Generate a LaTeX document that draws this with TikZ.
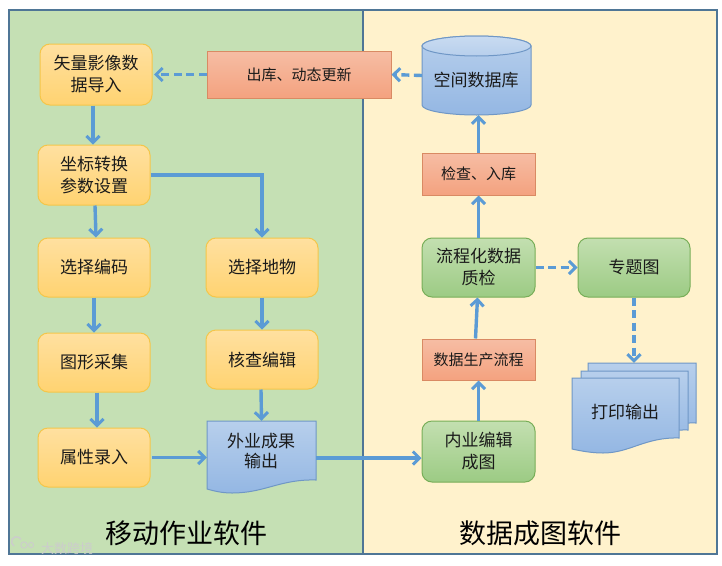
\documentclass[tikz,border=0pt]{standalone}
\usepackage{fontspec}
\setmainfont{Noto Sans CJK SC}
\usetikzlibrary{arrows.meta,calc}
\definecolor{panelL}{HTML}{C5E0B4}
\definecolor{panelR}{HTML}{FFF2CC}
\definecolor{panelB}{HTML}{4F7696}
\definecolor{arrowC}{HTML}{5B9BD5}
\definecolor{oT}{HTML}{FFE0A0}\definecolor{oB}{HTML}{FFD371}\definecolor{oD}{HTML}{F4C64A}
\definecolor{gT}{HTML}{C3DFB0}\definecolor{gB}{HTML}{9CCB84}\definecolor{gD}{HTML}{78AE58}
\definecolor{sT}{HTML}{F6BDA4}\definecolor{sB}{HTML}{F4A27F}\definecolor{sD}{HTML}{D98A63}
\definecolor{bT}{HTML}{B7CFEC}\definecolor{bB}{HTML}{94B7E3}\definecolor{bD}{HTML}{6F97C6}
\definecolor{inkC}{HTML}{1A1A1A}
\tikzset{
  x=1pt,y=-1pt,
  txt/.style={font=\fontsize{17}{22}\selectfont,text=inkC,align=center},
  ybox/.style={txt,draw=oD,line width=1pt,rounded corners=10pt,top color=oT,bottom color=oB,inner sep=0pt},
  gbox/.style={txt,draw=gD,line width=1pt,rounded corners=10pt,top color=gT,bottom color=gB,inner sep=0pt},
  sbox/.style={txt,font=\fontsize{15}{18}\selectfont,draw=sD,line width=1pt,top color=sT,bottom color=sB,inner sep=0pt},
  ghost/.style={inner sep=0pt},
  lbl/.style={txt,inner sep=0pt},
  docshape/.style={draw=bD,line width=1pt,top color=bT,bottom color=bB},
  conn/.style={draw=arrowC,line width=3.4pt,-{Straight Barb[length=6.5pt,width=13pt,line width=3pt]}},
  dconn/.style={conn,dash pattern=on 8pt off 4.5pt},
  paneltitle/.style={font=\fontsize{27}{31}\selectfont,text=black},
  wmark/.style={white!60!gray},
  box/.style args={#1x#2}{minimum width=#1pt,minimum height=#2pt},
}
\begin{document}
\begin{tikzpicture}
\useasboundingbox (0,0) rectangle (722,565);
% panels
\fill[white] (0,0) rectangle (722,565);
\fill[panelL] (9,10) rectangle (363,554);
\fill[panelR] (363,10) rectangle (717,554);
\draw[panelB,line width=2.5pt] (9,10) rectangle (717,554);
\draw[panelB,line width=2.5pt] (363,10) -- (363,554);
\node[paneltitle] (tL) at (186,533) {移动作业软件};
\node[paneltitle] (tR) at (540,533) {数据成图软件};
% left column
\node[ybox,box=112x61] (n1) at (96,74.5) {矢量影像数\\据导入};
\node[ybox,box=112x60] (n2) at (94,175) {坐标转换\\参数设置};
\node[ybox,box=112x59] (n3) at (94,267.5) {选择编码};
\node[ybox,box=112x59] (n4) at (94,362.5) {图形采集};
\node[ybox,box=112x59] (n5) at (94,457.5) {属性录入};
% second column
\node[ybox,box=112x59] (s1) at (262,267.5) {选择地物};
\node[ybox,box=112x59] (s2) at (262,359.5) {核查编辑};
\draw[docshape] (207,421) -- (316,421) -- (316,480) .. controls (280,479) and (265,493) .. (232,493) .. controls (222,493) and (214,491) .. (207,489) -- cycle;
\node[ghost,box=109x71] (doc) at (261.5,456.5) {};
\node[lbl,font=\fontsize{17}{20}\selectfont] (docT) at (261,451) {外业成果\\输出};
% top bar
\node[sbox,box=184x47] (out) at (299,74.5) {出库、动态更新};
% database
\draw[docshape] (422,46) arc[start angle=180,end angle=360,x radius=54.5,y radius=10] -- (531,105) arc[start angle=0,end angle=-180,x radius=54.5,y radius=-10] -- cycle;
\draw[draw=bD,line width=1pt,top color=bT!75!white,bottom color=bT] (476.5,46) ellipse[x radius=54.5,y radius=10];
\node[ghost,box=109x79] (db) at (476.5,75.5) {};
\node[lbl] (dbT) at (476,80) {空间数据库};
% right column
\node[sbox,box=113x42] (check) at (478.5,174) {检查、入库};
\node[gbox,box=113x59] (flow) at (478.5,267.5) {流程化数据\\质检};
\node[gbox,box=112x59] (zt) at (634,267.5) {专题图};
\node[sbox,box=113x41] (prod) at (478.5,359.5) {数据生产流程};
\node[gbox,box=113x61] (ny) at (478.5,451.5) {内业编辑\\成图};
% print stack
\draw[docshape] (588,363) -- (696,363) -- (696,423) .. controls (670,422) and (650,432) .. (625,436) -- (588,430) -- cycle;
\draw[docshape] (581,371) -- (688,371) -- (688,430) .. controls (662,429) and (640,441) .. (615,445) -- (581,438) -- cycle;
\draw[docshape] (572,378) -- (679,378) -- (679,438) .. controls (645,437) and (630,453) .. (603,453) .. controls (592,453) and (581,451) .. (572,449) -- cycle;
\node[ghost,box=124x90] (print) at (634,408) {};
\node[lbl] (printT) at (625,412) {打印输出};
% connectors
\coordinate (dstart) at ($(doc.east)+(0,1.5)$);
\coordinate (dend) at (ny.west |- dstart);
\draw[conn] ([xshift=-3pt]n1.south) -- ([xshift=-1pt]n2.north);
\draw[conn] ([xshift=1pt]n2.south) -- ([xshift=2pt]n3.north);
\draw[conn] (n3.south) -- (n4.north);
\draw[conn] ([xshift=3pt]n4.south) -- ([xshift=3pt]n5.north);
\draw[conn] (n2.east) -| (s1.north);
\draw[conn] (s1.south) -- (s2.north);
\draw[conn] ([xshift=-1pt]s2.south) -- (doc.north);
\draw[conn] ([xshift=1.5pt]n5.east) -- (doc.west |- n5.east);
\draw[conn] (dstart) -- (dend);
\draw[conn] (ny.north) -- (prod.south);
\draw[conn] ([xshift=-3pt]prod.north) -- ([xshift=-1pt]flow.south);
\draw[conn] (flow.north) -- (check.south);
\draw[conn] (check.north) -- ([xshift=2pt]db.south);
\draw[dconn] (flow.east) -- (zt.west);
\draw[dconn] (zt.south) -- (print.north);
\draw[dconn] (db.west) -- (out.east);
\draw[dconn] (out.west) -- ([xshift=1.5pt]n1.east);
% watermark
\node[font=\fontsize{13}{15}\selectfont,text=white!60!gray,inner sep=0pt] (wm) at (67,549) {大数跨境};
\draw[wmark,line width=1.4pt] (14,546) arc[start angle=120,end angle=330,radius=5];
\draw[wmark,line width=.9pt] (24,545) circle[radius=3.2] (31,545) circle[radius=2.6];
\end{tikzpicture}
\end{document}
